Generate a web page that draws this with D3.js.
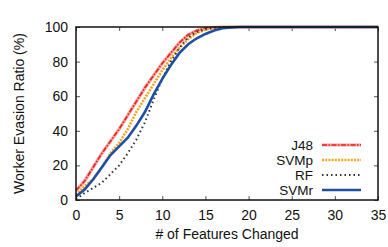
<!DOCTYPE html>
<html>
<head>
<meta charset="utf-8">
<script src="https://cdn.jsdelivr.net/npm/d3@7"></script>
<style>
  body { margin: 0; background: #fff; }
  svg { display: block; font-family: "Liberation Sans", Arial, sans-serif; }
</style>
</head>
<body>
<div id="chart"></div>
<script>
// Data
const features = d3.range(0, 36);
const j48 = [5.5, 11, 19, 27, 34, 41, 49, 57, 65, 72, 79, 85, 91, 95.5, 98, 99.3, 99.8, 100];
const svmp = [3, 8, 12, 19, 27, 33, 41, 51, 59, 67, 75, 82, 88, 93, 96.5, 98.5, 99.5, 100];
const rf = [0.5, 4, 7, 10, 15, 20, 27, 35, 45, 58, 70, 80, 88, 94, 97, 98.8, 99.6, 100];
const svmr = [2, 6, 12, 19, 26, 31, 36, 43, 51, 61, 70, 78, 85, 90, 93.5, 96, 98, 99.3, 99.8, 100];
const xTicks = [0, 5, 10, 15, 20, 25, 30, 35];
const yTicks = [0, 20, 40, 60, 80, 100];

const width = 388;
const height = 247;
const margin = { top: 27, right: 10, bottom: 47, left: 76 };

// pad each series with 100 out to the last feature count
const fill = (arr) => features.map((f, i) => ({ x: f, y: i < arr.length ? arr[i] : 100 }));

const series = [
  { name: "J48", values: fill(j48), color: "#e8231c", width: 1.6, dash: "5,1.5,1.5,1.5", halo: "#f7a0a0" },
  { name: "SVMp", values: fill(svmp), color: "#f4a21f", width: 2.6, dash: "2,1.2" },
  { name: "RF", values: fill(rf), color: "#333", width: 2, dash: "1.5,3" },
  { name: "SVMr", values: fill(svmr), color: "#1d4fa6", width: 2.6, dash: null },
];

const svg = d3.select("#chart").append("svg")
  .attr("width", width)
  .attr("height", height);

const x = d3.scaleLinear().domain([0, 35]).range([margin.left, width - margin.right]);
const y = d3.scaleLinear().domain([0, 100]).range([height - margin.bottom, margin.top]);

const tickLen = 4;

// inward ticks on all four sides (gnuplot mirror style)
const axes = svg.append("g").attr("font-size", 14).attr("fill", "#111");

axes.append("g")
  .attr("transform", `translate(0,${y(0)})`)
  .call(d3.axisBottom(x).tickValues(xTicks).tickSize(-tickLen).tickPadding(10).tickFormat(d3.format("d")))
  .call((g) => g.select(".domain").remove())
  .call((g) => g.selectAll("text").attr("font-size", 14).attr("fill", "#111"));

axes.append("g")
  .attr("transform", `translate(0,${y(100)})`)
  .call(d3.axisTop(x).tickValues(xTicks).tickSize(-tickLen).tickFormat(""))
  .call((g) => g.select(".domain").remove());

axes.append("g")
  .attr("transform", `translate(${x(0)},0)`)
  .call(d3.axisLeft(y).tickValues(yTicks).tickSize(-tickLen).tickPadding(8))
  .call((g) => g.select(".domain").remove())
  .call((g) => g.selectAll("text").attr("font-size", 14).attr("fill", "#111"));

axes.append("g")
  .attr("transform", `translate(${x(35)},0)`)
  .call(d3.axisRight(y).tickValues(yTicks).tickSize(-tickLen).tickFormat(""))
  .call((g) => g.select(".domain").remove());

svg.selectAll(".tick line").attr("stroke", "#555").attr("stroke-width", 1);

const line = d3.line().x((d) => x(d.x)).y((d) => y(d.y));

const plot = svg.append("g");

series.forEach((s) => {
  if (s.halo) {
    plot.append("path")
      .datum(s.values)
      .attr("fill", "none")
      .attr("stroke", s.halo)
      .attr("stroke-width", 3.2)
      .attr("d", line);
  }
  plot.append("path")
    .datum(s.values)
    .attr("fill", "none")
    .attr("stroke", s.color)
    .attr("stroke-width", s.width)
    .attr("stroke-dasharray", s.dash)
    .attr("d", line);
});

// frame
svg.append("rect")
  .attr("x", x(0))
  .attr("y", y(100))
  .attr("width", x(35) - x(0))
  .attr("height", y(0) - y(100))
  .attr("fill", "none")
  .attr("stroke", "#111")
  .attr("stroke-width", 1.5);

// legend
const legend = svg.append("g");
const legendY = [145, 160, 175, 190];
series.forEach((s, i) => {
  legend.append("text")
    .attr("x", 313)
    .attr("y", legendY[i])
    .attr("dy", "0.35em")
    .attr("text-anchor", "end")
    .attr("font-size", 13.5)
    .attr("fill", "#111")
    .text(s.name);
  if (s.halo) {
    legend.append("line")
      .attr("x1", 322).attr("x2", 361)
      .attr("y1", legendY[i]).attr("y2", legendY[i])
      .attr("stroke", s.halo)
      .attr("stroke-width", 3.2);
  }
  legend.append("line")
    .attr("x1", 322).attr("x2", 361)
    .attr("y1", legendY[i]).attr("y2", legendY[i])
    .attr("stroke", s.color)
    .attr("stroke-width", s.width)
    .attr("stroke-dasharray", s.dash);
});

// axis titles
svg.append("text")
  .attr("x", (x(0) + x(35)) / 2)
  .attr("y", 239)
  .attr("text-anchor", "middle")
  .attr("font-size", 14)
  .attr("fill", "#111")
  .text("# of Features Changed");

svg.append("text")
  .attr("transform", `translate(19,${(y(0) + y(100)) / 2}) rotate(-90)`)
  .attr("text-anchor", "middle")
  .attr("dy", "0.35em")
  .attr("font-size", 14)
  .attr("fill", "#111")
  .text("Worker Evasion Ratio (%)");
</script>
</body>
</html>
